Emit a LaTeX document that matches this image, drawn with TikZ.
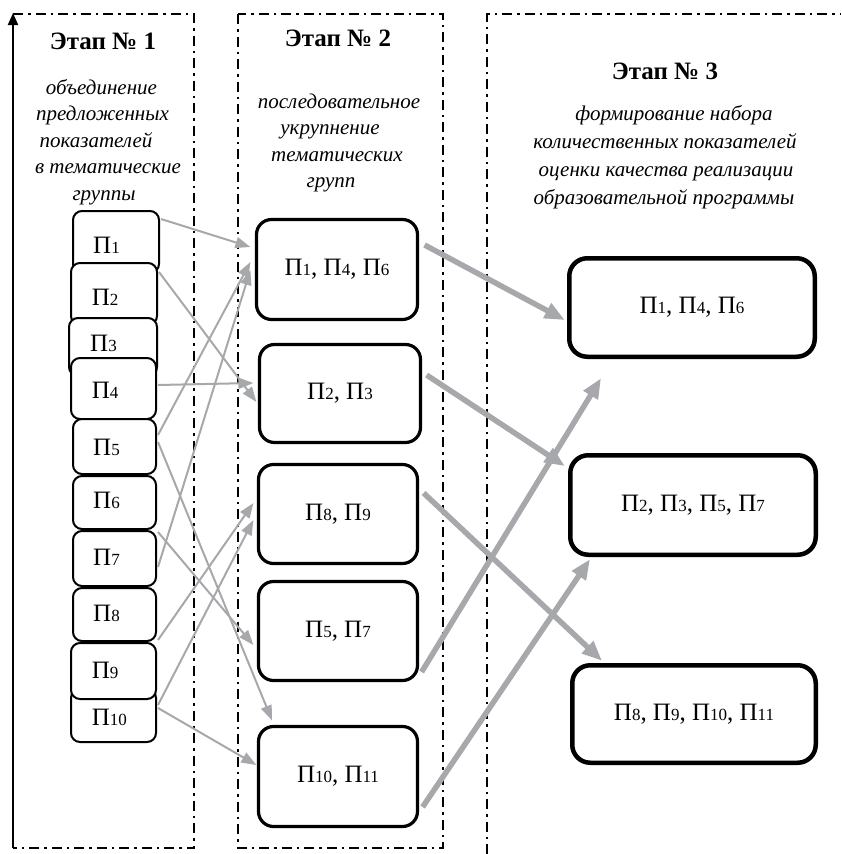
\documentclass[tikz,border=0pt]{standalone}
\usepackage{fontspec}
\setmainfont{Liberation Serif}
\usetikzlibrary{arrows.meta}
\definecolor{arrgray}{RGB}{166,168,171}
\newcommand{\pk}[1]{П{\fontsize{17}{17}\selectfont #1}}
\begin{document}
\begin{tikzpicture}[x=1pt,y=-1pt,
 frame/.style={line width=2.2pt, dash pattern=on 10pt off 5pt on 2.5pt off 5pt},
 sbox/.style={draw, line width=2pt, rounded corners=9pt, fill=white, inner sep=0pt},
 mbox/.style={draw, line width=3.2pt, rounded corners=15pt, fill=white, inner sep=0pt, font=\fontsize{25}{30}\selectfont},
 bbox/.style={draw, line width=4.5pt, rounded corners=18pt, fill=white, inner sep=0pt, font=\fontsize{25}{30}\selectfont},
 thinarr/.style={draw=arrgray, line width=2pt, -{Triangle[length=15pt,width=11pt]}},
 thickarr/.style={draw=arrgray, line width=5.5pt, -{Triangle[length=20pt,width=16pt]}},
 title/.style={font=\bfseries\fontsize{25}{30}\selectfont, anchor=base, inner sep=0pt},
 desc/.style={font=\itshape\fontsize{21}{26}\selectfont, anchor=base, inner sep=0pt},
 lab/.style={font=\fontsize{25}{30}\selectfont, anchor=base west, inner sep=0pt}]
\useasboundingbox (0,0) rectangle (841,854);
% frames
\draw[frame] (13,14) -- (194,14) -- (194,848) -- (13,848);
\draw[line width=2pt, -{Triangle[length=12pt,width=10pt]}] (13,848) -- (13,13);
\draw[frame] (238,14) rectangle (443,848);
\draw[frame] (487,854) -- (487,14) -- (841,14);
% titles
\node[title] (s1t) at (103,49) {Этап № 1};
\node[desc] (s1a) at (101.5,94) {объединение};
\node[desc] (s1b) at (102.5,120.5) {предложенных};
\node[desc] (s1c) at (96,147) {показателей};
\node[desc] (s1d) at (108,173.5) {в тематические};
\node[desc] (s1e) at (104,200) {группы};
\node[title] (s2t) at (338,46) {Этап № 2};
\node[desc] (s2a) at (339,108) {последовательное};
\node[desc] (s2b) at (330,134) {укрупнение};
\node[desc] (s2c) at (337,161) {тематических};
\node[desc] (s2d) at (331,187) {групп};
\node[title] (s3t) at (665,79) {Этап № 3};
\node[desc] (s3a) at (674,120) {формирование набора};
\node[desc] (s3b) at (665,148) {количественных показателей};
\node[desc] (s3c) at (666,176) {оценки качества реализации};
\node[desc] (s3d) at (664,204) {образовательной программы};
% small boxes
\node[sbox, minimum width=85pt, minimum height=53pt] (p10) at (113.5,715.5) {};
\node[sbox, minimum width=86pt, minimum height=62pt] (p1) at (116,242) {};
\node[sbox, minimum width=86pt, minimum height=62pt] (p2) at (114,294) {};
\node[sbox, minimum width=88pt, minimum height=58pt] (p3) at (113,347) {};
\node[sbox, minimum width=85pt, minimum height=61pt] (p4) at (113.5,388.5) {};
\node[sbox, minimum width=83pt, minimum height=55pt] (p5) at (114.5,446.5) {};
\node[sbox, minimum width=83pt, minimum height=53pt] (p6) at (114.5,502.5) {};
\node[sbox, minimum width=83pt, minimum height=55pt] (p7) at (114.5,558.5) {};
\node[sbox, minimum width=83pt, minimum height=53pt] (p8) at (114.5,614.5) {};
\node[sbox, minimum width=85pt, minimum height=56pt] (p9) at (113.5,671) {};
\node[lab] (l1) at (93,253) {\pk{1}};
\node[lab] (l2) at (91.7,305) {\pk{2}};
\node[lab] (l3) at (90,351.7) {\pk{3}};
\node[lab] (l4) at (91.7,398) {\pk{4}};
\node[lab] (l5) at (93,455) {\pk{5}};
\node[lab] (l6) at (93,508) {\pk{6}};
\node[lab] (l7) at (93,565) {\pk{7}};
\node[lab] (l8) at (93,621.7) {\pk{8}};
\node[lab] (l9) at (91.7,678) {\pk{9}};
\node[lab] (l10) at (91.7,725) {\pk{10}};
% middle boxes
\node[mbox, minimum width=161pt, minimum height=100pt] (g146) at (337,269.5) {\pk{1}, \pk{4}, \pk{6}};
\node[mbox, minimum width=161pt, minimum height=98pt] (g23) at (340,393.5) {\pk{2}, \pk{3}};
\node[mbox, minimum width=159pt, minimum height=99pt] (g89) at (338,514) {\pk{8}, \pk{9}};
\node[mbox, minimum width=159pt, minimum height=99pt] (g57) at (338,631) {\pk{5}, \pk{7}};
\node[mbox, minimum width=159pt, minimum height=100pt] (g1011) at (338,776.5) {\pk{10}, \pk{11}};
% right boxes
\node[bbox, minimum width=245.5pt, minimum height=98.5pt] (h146) at (692,307.5) {\pk{1}, \pk{4}, \pk{6}};
\node[bbox, minimum width=245.5pt, minimum height=99.5pt] (h2357) at (693,505) {\pk{2}, \pk{3}, \pk{5}, \pk{7}};
\node[bbox, minimum width=243.5pt, minimum height=97.5pt] (h8) at (694,714) {\pk{8}, \pk{9}, \pk{10}, \pk{11}};
% thin arrows
\draw[thinarr] ([xshift=1pt,yshift=23pt]p1.east) -- ([xshift=-4.5pt,yshift=22.5pt]g146.west);
\draw[thinarr] ([xshift=1pt,yshift=22pt]p2.east) -- ([xshift=-1.5pt,yshift=-8.5pt]g23.west);
\draw[thinarr] ([xshift=1pt,yshift=3.5pt]p4.east) -- ([xshift=-4.5pt,yshift=10.5pt]g23.west);
\draw[thinarr] ([xshift=1pt,yshift=11.5pt]p5.east) -- ([xshift=-4.5pt,yshift=7.5pt]g146.west);
\draw[thinarr] ([xshift=1pt,yshift=4.5pt]p5.east) -- ([xshift=-66pt,yshift=4.5pt]g1011.north);
\draw[thinarr] ([xshift=1pt,yshift=-29.5pt]p6.east) -- ([xshift=-3.5pt,yshift=-14pt]g57.west);
\draw[thinarr] ([xshift=1pt,yshift=-8.5pt]p7.east) -- ([xshift=-4.5pt,yshift=-0.5pt]g146.west);
\draw[thinarr] ([xshift=1pt,yshift=-25.5pt]p8.east) -- ([xshift=-3.5pt,yshift=11pt]g89.west);
\draw[thinarr] ([xshift=1pt,yshift=10.5pt]p10.east) -- ([xshift=-3.5pt,yshift=-6pt]g89.west);
\draw[thinarr] ([xshift=1pt,yshift=7.5pt]p10.east) -- ([xshift=-0.5pt,yshift=11.5pt]g1011.west);
% thick arrows
\draw[thickarr] ([xshift=5.5pt,yshift=24.5pt]g146.east) -- ([xshift=-2.25pt,yshift=-12.5pt]h146.west);
\draw[thickarr] ([xshift=4.5pt,yshift=18.5pt]g23.east) -- ([xshift=-3.25pt,yshift=39pt]h2357.west);
\draw[thickarr] ([xshift=4.5pt,yshift=21pt]g89.east) -- ([xshift=-92pt,yshift=2.25pt]h8.north);
\draw[thickarr] ([xshift=2.5pt,yshift=-41pt]g57.east) -- ([xshift=-91pt,yshift=-19.25pt]h146.south);
\draw[thickarr] ([xshift=3.5pt,yshift=-30.5pt]g1011.east) -- ([xshift=-103pt,yshift=-2.25pt]h2357.south);
\end{tikzpicture}
\end{document}
